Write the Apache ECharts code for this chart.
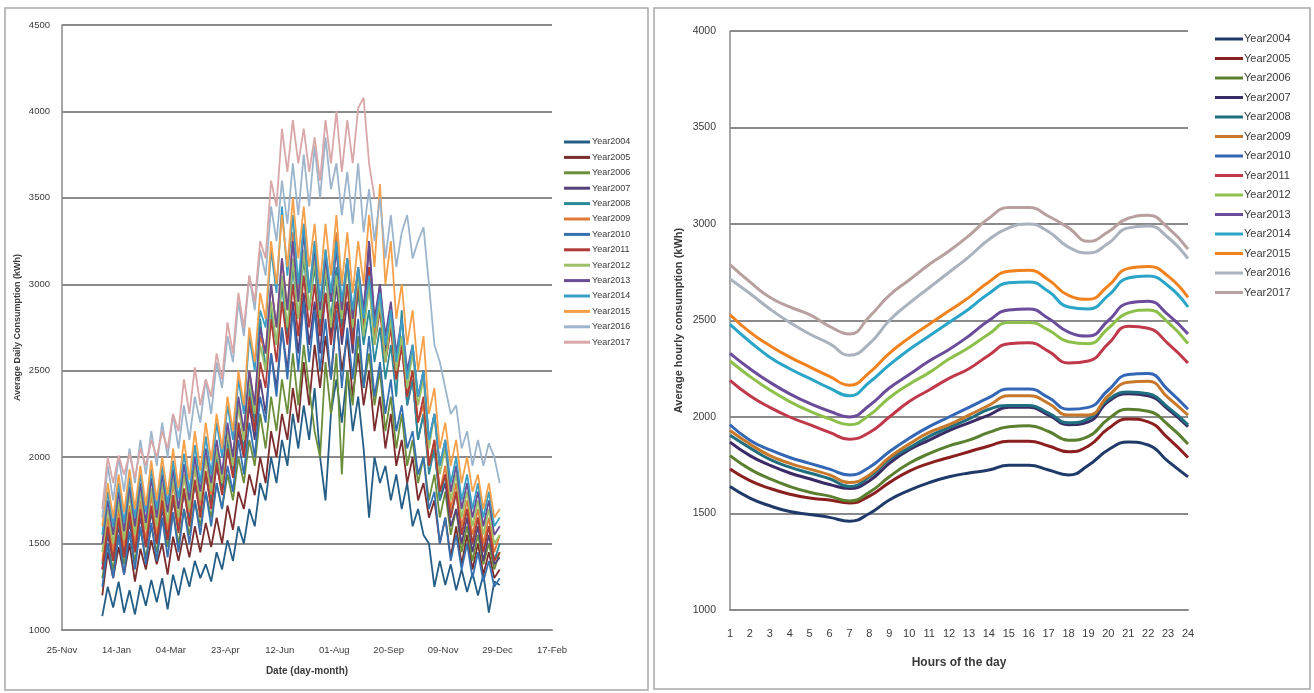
<!DOCTYPE html>
<html>
<head>
<meta charset="utf-8">
<script src="https://cdn.jsdelivr.net/npm/echarts@6.0.0/dist/echarts.min.js"></script>
<style>
html, body { margin: 0; padding: 0; background: #fff; }
#main { width: 1314px; height: 693px; }
</style>
</head>
<body>
<div id="main"></div>
<script>
// 年份
var years = ['Year2004', 'Year2005', 'Year2006', 'Year2007', 'Year2008', 'Year2009', 'Year2010',
    'Year2011', 'Year2012', 'Year2013', 'Year2014', 'Year2015', 'Year2016', 'Year2017'];

// 左图 x 轴刻度（25-Nov 起每 50 天）
var dateTicks = ['25-Nov', '14-Jan', '04-Mar', '23-Apr', '12-Jun', '01-Aug', '20-Sep', '09-Nov', '29-Dec', '17-Feb'];
var JAN1 = 37; // 25-Nov 到 1-Jan 的天数

// 采样日（一年中的第几天，0 = 1-Jan）
var sampleDays = [0, 5, 10, 15, 20, 25, 30, 35, 40, 45,
    50, 55, 60, 65, 70, 75, 80, 85, 90, 95,
    100, 105, 110, 115, 120, 125, 130, 135, 140, 145,
    150, 155, 160, 165, 170, 175, 180, 185, 190, 195,
    200, 205, 210, 215, 220, 225, 230, 235, 240, 245,
    250, 255, 260, 265, 270, 275, 280, 285, 290, 295,
    300, 305, 310, 315, 320, 325, 330, 335, 340, 345,
    350, 355, 360, 365];

// 日均用电（kWh）
var daily2004 = [1080, 1250, 1130, 1280, 1100, 1230, 1090, 1260, 1140, 1290,
    1160, 1300, 1120, 1320, 1200, 1360, 1250, 1400, 1300, 1380,
    1280, 1450, 1350, 1520, 1400, 1600, 1500, 1700, 1600, 1850,
    1750, 2000, 1850, 2100, 1950, 2250, 2050, 2300, 2100, 2400,
    2000, 1750, 2250, 2450, 2200, 2500, 2150, 2350, 2050, 1650,
    2000, 1850, 1950, 1750, 1900, 1700, 1850, 1600, 1700, 1550,
    1500, 1250, 1400, 1260, 1380, 1230, 1350, 1220, 1330, 1200,
    1320, 1100, 1280, 1260];
var daily2005 = [1200, 1450, 1300, 1480, 1320, 1500, 1280, 1470, 1350, 1520,
    1380, 1500, 1320, 1540, 1400, 1560, 1420, 1600, 1450, 1620,
    1480, 1650, 1500, 1720, 1580, 1800, 1700, 1900, 1780, 2000,
    1850, 2150, 2000, 2250, 2100, 2400, 2200, 2550, 2300, 2650,
    2400, 2700, 2450, 2800, 2500, 2700, 2350, 2600, 2300, 2500,
    2150, 2350, 2050, 2250, 1950, 2100, 1850, 2000, 1750, 1850,
    1650, 1750, 1500, 1650, 1420, 1600, 1380, 1550, 1350, 1500,
    1320, 1450, 1300, 1350];
var daily2006 = [1300, 1500, 1350, 1550, 1380, 1560, 1400, 1580, 1420, 1600,
    1450, 1650, 1480, 1680, 1500, 1700, 1550, 1750, 1600, 1800,
    1650, 1850, 1700, 1900, 1750, 2000, 1850, 2100, 1950, 2250,
    2050, 2350, 2150, 2450, 2250, 2600, 2300, 2650, 2400, 2150,
    2000, 2550, 2250, 2600, 1900, 2500, 2300, 2700, 2400, 2600,
    2300, 2500, 2150, 2350, 2050, 2250, 1950, 2100, 1850, 2000,
    1750, 1900, 1650, 1800, 1550, 1700, 1450, 1600, 1400, 1550,
    1380, 1500, 1350, 1450];
var daily2007 = [1350, 1550, 1400, 1600, 1420, 1620, 1450, 1650, 1480, 1680,
    1500, 1700, 1520, 1750, 1580, 1800, 1620, 1850, 1680, 1900,
    1720, 1950, 1800, 2050, 1900, 2150, 2000, 2300, 2100, 2450,
    2250, 2600, 2400, 2750, 2500, 2900, 2600, 2950, 2650, 2900,
    2600, 2950, 2700, 3000, 2650, 2900, 2600, 3050, 2700, 3250,
    2750, 3000, 2600, 2800, 2450, 2650, 2300, 2450, 2100, 2250,
    1950, 2050, 1750, 1850, 1600, 1700, 1500, 1650, 1450, 1600,
    1400, 1550, 1380, 1420];
var daily2008 = [1380, 1580, 1420, 1620, 1450, 1650, 1470, 1680, 1500, 1700,
    1520, 1720, 1550, 1760, 1600, 1800, 1650, 1850, 1700, 1900,
    1750, 2000, 1820, 2100, 1900, 2200, 2050, 2400, 2200, 2800,
    2500, 2850, 2650, 3000, 2700, 3100, 2800, 3150, 2850, 3100,
    2750, 3050, 2800, 3100, 2750, 3000, 2700, 2950, 2650, 2850,
    2550, 2750, 2450, 2650, 2350, 2850, 2300, 2450, 2100, 2250,
    1900, 2050, 1750, 1900, 1650, 1800, 1550, 1700, 1500, 1650,
    1450, 1600, 1400, 1500];
var daily2009 = [1400, 1650, 1450, 1700, 1480, 1720, 1500, 1750, 1520, 1780,
    1550, 1800, 1580, 1850, 1620, 1900, 1680, 1950, 1720, 2000,
    1780, 2050, 1850, 2150, 1950, 2300, 2100, 2500, 2300, 2700,
    2600, 3000, 2750, 3150, 2850, 3300, 2900, 3350, 2950, 3250,
    2850, 3200, 2900, 3300, 2850, 3150, 2800, 3100, 2750, 3000,
    2700, 2900, 2550, 2750, 2450, 2650, 2350, 2500, 2200, 2300,
    1950, 2100, 1800, 1950, 1700, 1850, 1600, 1750, 1550, 1700,
    1500, 1650, 1450, 1550];
var daily2010 = [1250, 1500, 1300, 1550, 1320, 1570, 1350, 1600, 1380, 1620,
    1400, 1650, 1420, 1680, 1450, 1700, 1500, 1750, 1550, 1800,
    1600, 1850, 1700, 1950, 1800, 2100, 1900, 2200, 2000, 2350,
    2200, 2600, 2350, 2750, 2450, 2850, 2500, 2900, 2550, 2850,
    2500, 2800, 2450, 2850, 2400, 2750, 2450, 2800, 2400, 2700,
    2350, 2550, 2250, 2450, 2150, 2300, 2050, 2150, 1900, 2000,
    1700, 1800, 1500, 1650, 1400, 1550, 1350, 1500, 1300, 1450,
    1280, 1400, 1250, 1300];
var daily2011 = [1350, 1600, 1400, 1650, 1420, 1680, 1450, 1700, 1480, 1720,
    1500, 1750, 1520, 1780, 1560, 1820, 1600, 1870, 1650, 1920,
    1700, 1970, 1780, 2050, 1880, 2200, 2000, 2350, 2150, 2550,
    2400, 2800, 2550, 2900, 2650, 3000, 2700, 3050, 2750, 3000,
    2700, 2950, 2650, 2900, 2700, 3000, 2650, 3000, 2750, 3100,
    2650, 2850, 2550, 2750, 2450, 2650, 2350, 2500, 2200, 2350,
    1950, 2100, 1800, 1900, 1650, 1800, 1550, 1700, 1500, 1650,
    1450, 1600, 1400, 1450];
var daily2012 = [1450, 1700, 1500, 1750, 1520, 1780, 1550, 1800, 1580, 1820,
    1600, 1850, 1620, 1880, 1650, 1900, 1700, 1950, 1750, 2000,
    1800, 2050, 1850, 2150, 1950, 2300, 2100, 2450, 2250, 2650,
    2500, 2900, 2650, 3050, 2750, 3150, 2800, 3200, 2850, 3150,
    2800, 3100, 2750, 3050, 2800, 3100, 2750, 3050, 2700, 3000,
    2650, 2900, 2550, 2800, 2500, 2700, 2400, 2600, 2300, 2450,
    2050, 2250, 1900, 2050, 1750, 1900, 1650, 1800, 1600, 1750,
    1550, 1700, 1500, 1550];
var daily2013 = [1500, 1750, 1550, 1800, 1570, 1830, 1600, 1850, 1620, 1880,
    1650, 1900, 1680, 1930, 1700, 1960, 1750, 2000, 1800, 2050,
    1850, 2100, 1900, 2200, 2000, 2350, 2150, 2500, 2300, 2750,
    2600, 3000, 2750, 3150, 2850, 3250, 2900, 3300, 2950, 3200,
    2850, 3150, 2900, 3200, 2850, 3150, 2800, 3100, 2850, 3250,
    2800, 3000, 2700, 2900, 2600, 2800, 2500, 2650, 2350, 2500,
    2100, 2250, 1950, 2100, 1800, 1950, 1700, 1850, 1650, 1800,
    1600, 1750, 1550, 1600];
var daily2014 = [1550, 1800, 1600, 1850, 1620, 1880, 1650, 1900, 1680, 1930,
    1700, 1950, 1730, 1980, 1760, 2020, 1800, 2070, 1850, 2120,
    1900, 2200, 2000, 2300, 2100, 2450, 2250, 2700, 2500, 2850,
    2750, 3200, 2950, 3450, 3050, 3400, 3000, 3350, 2950, 3250,
    2900, 3200, 2950, 3250, 2900, 3150, 2850, 3100, 2800, 3050,
    2750, 2950, 2650, 2850, 2550, 2800, 2450, 2650, 2350, 2500,
    2100, 2250, 1950, 2100, 1850, 2000, 1750, 1900, 1700, 1850,
    1650, 1800, 1600, 1650];
var daily2015 = [1600, 1850, 1650, 1900, 1680, 1930, 1700, 1950, 1720, 1980,
    1750, 2000, 1780, 2050, 1820, 2100, 1870, 2150, 1920, 2200,
    1980, 2250, 2050, 2350, 2150, 2500, 2300, 2750, 2550, 2950,
    2800, 3250, 3000, 3400, 3100, 3500, 3150, 3450, 3100, 3350,
    3000, 3350, 3050, 3400, 3000, 3300, 2950, 3250, 3000, 3400,
    3100, 3580, 3000, 3250, 2800, 3000, 2650, 2850, 2500, 2700,
    2250, 2400, 2050, 2200, 1950, 2100, 1850, 2000, 1800, 1900,
    1700, 1850, 1650, 1700];
var daily2016 = [1650, 1950, 1750, 2000, 1800, 2050, 1850, 2100, 1900, 2150,
    1950, 2200, 2000, 2250, 2050, 2300, 2100, 2350, 2200, 2450,
    2250, 2550, 2400, 2700, 2550, 2900, 2700, 3050, 2850, 3200,
    3050, 3450, 3250, 3600, 3350, 3700, 3400, 3750, 3450, 3800,
    3500, 3850, 3550, 3700, 3400, 3650, 3350, 3700, 3300, 3550,
    3250, 3500, 3150, 3400, 3100, 3300, 3400, 3150, 3250, 3330,
    3000, 2650, 2550, 2400, 2250, 2300, 2050, 2150, 1950, 2100,
    1950, 2080, 2000, 1850];
var daily2017 = [1700, 2000, 1850, 2010, 1900, 2020, 1880, 2050, 1950, 2100,
    2000, 2150, 2050, 2250, 2150, 2450, 2250, 2520, 2300, 2450,
    2350, 2600, 2450, 2780, 2600, 2950, 2750, 3050, 2900, 3250,
    3150, 3600, 3450, 3900, 3650, 3950, 3700, 3900, 3650, 3850,
    3600, 3950, 3700, 4000, 3650, 3950, 3700, 4020, 4080, 3700,
    3500];

// 小时
var hours = ['1', '2', '3', '4', '5', '6', '7', '8', '9', '10', '11', '12',
    '13', '14', '15', '16', '17', '18', '19', '20', '21', '22', '23', '24'];

// 小时平均用电（kWh）
var hourly2004 = [1640, 1580, 1540, 1510, 1495, 1480, 1460, 1500, 1570, 1620, 1660, 1690, 1710, 1725, 1750, 1750, 1725, 1700, 1750, 1830, 1870, 1855, 1770, 1690];
var hourly2005 = [1730, 1670, 1630, 1600, 1580, 1570, 1555, 1590, 1660, 1720, 1760, 1790, 1820, 1850, 1875, 1875, 1850, 1820, 1850, 1940, 1990, 1975, 1890, 1790];
var hourly2006 = [1800, 1730, 1680, 1640, 1610, 1590, 1565, 1610, 1690, 1760, 1810, 1850, 1880, 1920, 1950, 1955, 1925, 1880, 1900, 1990, 2040, 2030, 1960, 1860];
var hourly2007 = [1870, 1800, 1750, 1710, 1680, 1650, 1630, 1670, 1760, 1830, 1880, 1930, 1970, 2010, 2050, 2050, 2010, 1960, 1975, 2080, 2120, 2110, 2040, 1950];
var hourly2008 = [1905, 1840, 1780, 1740, 1710, 1680, 1640, 1690, 1780, 1840, 1900, 1945, 1990, 2040, 2060, 2060, 2020, 1970, 1990, 2090, 2130, 2120, 2050, 1960];
var hourly2009 = [1930, 1860, 1800, 1760, 1730, 1700, 1660, 1700, 1790, 1860, 1920, 1960, 2010, 2060, 2110, 2110, 2070, 2010, 2010, 2110, 2180, 2185, 2100, 2010];
var hourly2010 = [1960, 1880, 1830, 1790, 1760, 1730, 1700, 1740, 1820, 1890, 1950, 2000, 2050, 2100, 2145, 2145, 2100, 2040, 2050, 2140, 2220, 2225, 2140, 2040];
var hourly2011 = [2190, 2110, 2050, 2000, 1960, 1920, 1885, 1920, 2000, 2080, 2140, 2200, 2250, 2320, 2380, 2385, 2340, 2280, 2290, 2380, 2470, 2460, 2380, 2280];
var hourly2012 = [2290, 2210, 2140, 2080, 2030, 1990, 1960, 2010, 2100, 2170, 2230, 2300, 2360, 2430, 2490, 2490, 2450, 2390, 2380, 2460, 2540, 2555, 2490, 2380];
var hourly2013 = [2330, 2250, 2180, 2120, 2070, 2030, 2000, 2060, 2150, 2220, 2290, 2350, 2420, 2500, 2555, 2560, 2510, 2440, 2420, 2500, 2590, 2600, 2530, 2430];
var hourly2014 = [2480, 2390, 2310, 2250, 2200, 2150, 2110, 2180, 2270, 2350, 2420, 2490, 2560, 2640, 2695, 2700, 2650, 2570, 2560, 2630, 2720, 2730, 2680, 2570];
var hourly2015 = [2530, 2440, 2370, 2310, 2260, 2210, 2165, 2230, 2330, 2410, 2480, 2550, 2620, 2700, 2755, 2760, 2710, 2630, 2610, 2680, 2770, 2780, 2730, 2620];
var hourly2016 = [2715, 2640, 2560, 2490, 2430, 2380, 2320, 2380, 2500, 2590, 2670, 2750, 2830, 2920, 2980, 3000, 2960, 2880, 2850, 2900, 2980, 2990, 2930, 2820];
var hourly2017 = [2790, 2700, 2620, 2570, 2530, 2470, 2430, 2520, 2630, 2710, 2790, 2860, 2940, 3030, 3085, 3085, 3040, 2980, 2910, 2960, 3030, 3045, 2980, 2870];

var dailyList = [daily2004, daily2005, daily2006, daily2007, daily2008, daily2009, daily2010,
    daily2011, daily2012, daily2013, daily2014, daily2015, daily2016, daily2017];
var hourlyList = [hourly2004, hourly2005, hourly2006, hourly2007, hourly2008, hourly2009, hourly2010,
    hourly2011, hourly2012, hourly2013, hourly2014, hourly2015, hourly2016, hourly2017];

var dailyColors = ['#245E86', '#7B2C2C', '#6B8E3A', '#54407A', '#2A8A9A', '#E07B39', '#3670B0',
    '#B03A35', '#9BC068', '#6A4C93', '#3A9EC4', '#F5A04A', '#9DB5CC', '#D9A7A8'];
var hourlyColors = ['#1F3A68', '#8B1F1F', '#5A7F2E', '#3A2A66', '#1F6F80', '#C7782A', '#3366B5',
    '#C0394A', '#8DC04A', '#6B4C9A', '#2AA5C8', '#F0821E', '#AAB2BE', '#B9A0A0'];

var FONT = '"Liberation Sans", sans-serif';
var HOURLY_TAG = ' (h)';

//纵轴刻度不要千分位
function plainNumber(value) {
    return String(value);
}

//组装 series
function buildSeries() {
    var series = [];
    for (var i = 0; i < years.length; i++) {
        var pts = [];
        for (var j = 0; j < dailyList[i].length; j++) {
            pts.push([JAN1 + sampleDays[j], dailyList[i][j]]);
        }
        series.push({
            name: years[i],
            type: 'line',
            xAxisIndex: 0,
            yAxisIndex: 0,
            showSymbol: false,
            symbol: 'none',
            data: pts,
            color: dailyColors[i],
            lineStyle: {width: 1.8},
            emphasis: {disabled: true}
        });
    }
    for (var k = 0; k < years.length; k++) {
        series.push({
            name: years[k] + HOURLY_TAG,
            type: 'line',
            xAxisIndex: 1,
            yAxisIndex: 1,
            smooth: true,
            showSymbol: false,
            symbol: 'none',
            data: hourlyList[k],
            color: hourlyColors[k],
            lineStyle: {width: 3},
            emphasis: {disabled: true}
        });
    }
    return series;
}

var axisGray = '#8a8a8a';
var textGray = '#3a3a3a';

var option = {
    backgroundColor: '#fff',
    animation: false,
    textStyle: {fontFamily: FONT},
    graphic: [
        {type: 'rect', shape: {x: 5, y: 8, width: 643, height: 682}, style: {fill: 'none', stroke: '#a8a8a8', lineWidth: 1.5}},
        {type: 'rect', shape: {x: 654, y: 8, width: 656, height: 681}, style: {fill: 'none', stroke: '#a8a8a8', lineWidth: 1.5}}
    ],
    legend: [{
        orient: 'vertical',
        left: 559,
        top: 131,
        data: years,
        icon: 'rect',
        itemWidth: 26,
        itemHeight: 3,
        itemGap: 3.4,
        textStyle: {fontFamily: FONT, fontSize: 9, lineHeight: 12, color: textGray, padding: [0, 0, 0, -3]},
        selectedMode: false
    }, {
        orient: 'vertical',
        left: 1210,
        top: 27,
        data: years.map(function (y) { return y + HOURLY_TAG; }),
        icon: 'rect',
        itemWidth: 28,
        itemHeight: 3,
        itemGap: 5.5,
        formatter: function (name) { return name.replace(HOURLY_TAG, ''); },
        textStyle: {fontFamily: FONT, fontSize: 11, lineHeight: 14, color: textGray, padding: [0, 0, 0, -4]},
        selectedMode: false
    }],
    grid: [
        {left: 62, top: 25, width: 490, height: 605},
        {left: 730, top: 31, width: 458, height: 579}
    ],
    xAxis: [{
        type: 'value',
        gridIndex: 0,
        min: 0,
        max: 450,
        interval: 50,
        name: 'Date (day-month)',
        nameLocation: 'middle',
        nameGap: 36,
        nameTextStyle: {fontFamily: FONT, fontSize: 10, fontWeight: 'bold', color: textGray},
        axisLine: {show: true, lineStyle: {color: axisGray, width: 2}},
        axisTick: {show: false},
        splitLine: {show: false},
        axisLabel: {
            margin: 15,
            fontSize: 9.5,
            color: textGray,
            fontFamily: FONT,
            formatter: function (v) { return dateTicks[Math.round(v / 50)]; }
        }
    }, {
        type: 'category',
        gridIndex: 1,
        data: hours,
        boundaryGap: false,
        name: 'Hours of the day',
        nameLocation: 'middle',
        nameGap: 47,
        nameTextStyle: {fontFamily: FONT, fontSize: 12, fontWeight: 'bold', color: textGray},
        axisLine: {show: true, lineStyle: {color: axisGray, width: 2}},
        axisTick: {show: false},
        splitLine: {show: false},
        axisLabel: {margin: 18, fontSize: 11, color: textGray, fontFamily: FONT, interval: 0}
    }],
    yAxis: [{
        type: 'value',
        gridIndex: 0,
        min: 1000,
        max: 4500,
        interval: 500,
        name: 'Average Daily Consumption (kWh)',
        nameLocation: 'middle',
        nameGap: 40,
        nameTextStyle: {fontFamily: FONT, fontSize: 9, fontWeight: 'bold', color: textGray},
        axisLine: {show: true, lineStyle: {color: axisGray, width: 1.5}},
        axisTick: {show: false},
        splitLine: {show: true, lineStyle: {color: axisGray, width: 1.8}},
        axisLabel: {margin: 12, fontSize: 9.5, color: textGray, fontFamily: FONT, formatter: plainNumber}
    }, {
        type: 'value',
        gridIndex: 1,
        min: 1000,
        max: 4000,
        interval: 500,
        name: 'Average hourly consumption (kWh)',
        nameLocation: 'middle',
        nameGap: 46,
        nameTextStyle: {fontFamily: FONT, fontSize: 11, fontWeight: 'bold', color: textGray},
        axisLine: {show: true, lineStyle: {color: axisGray, width: 1.5}},
        axisTick: {show: false},
        splitLine: {show: true, lineStyle: {color: axisGray, width: 1.8}},
        axisLabel: {margin: 14, fontSize: 10.5, color: textGray, fontFamily: FONT, formatter: plainNumber}
    }],
    series: buildSeries()
};

var myChart = echarts.init(document.getElementById('main'), null, {renderer: 'canvas'});
myChart.setOption(option);
</script>
</body>
</html>
